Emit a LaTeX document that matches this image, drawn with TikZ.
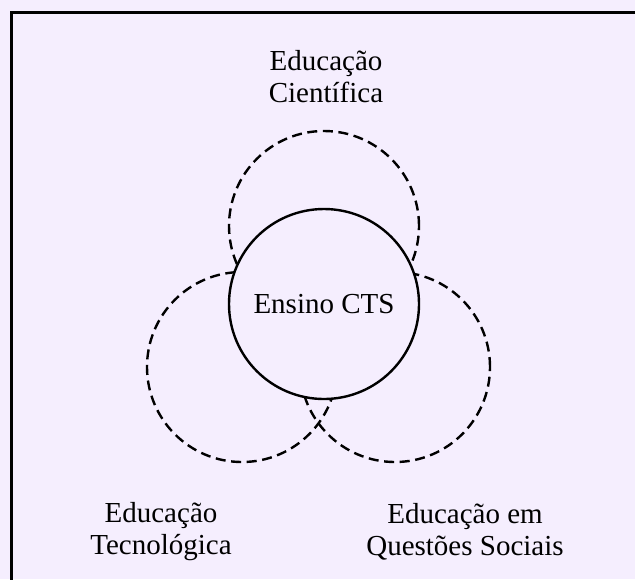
\documentclass[tikz,border=0pt]{standalone}
\usepackage{fontspec}
\setmainfont{Liberation Serif}
\definecolor{fundo}{RGB}{245,238,254}

\begin{document}
\begin{tikzpicture}[x=0.5pt,y=-0.5pt,
    area/.style={circle,draw,dashed,line width=1.2pt,dash pattern=on 5pt off 2.8pt,minimum size=95pt,inner sep=0pt},
    nucleo/.style={circle,draw,fill=fundo,line width=1.2pt,minimum size=95pt,inner sep=0pt,font=\fontsize{14.5}{16}\selectfont},
    rotulo/.style={align=center,inner sep=0pt,font=\fontsize{14.5}{16}\selectfont}]
    \useasboundingbox (0,0) rectangle (635,579);
    \clip (0,0) rectangle (635,579);
    \fill[fundo] (0,0) rectangle (635,579);
    \draw[line width=1.5pt] (11,12) rectangle (660,600);
    \node[area] (cien) at (324,226) {};
    \node[area] (tec)  at (242,367) {};
    \node[area] (soc)  at (395,367) {};
    \node[nucleo] (cts) at (324,304) {Ensino CTS};
    \node[rotulo] (lcien) at (326,77)  {Educação\\Científica};
    \node[rotulo] (ltec)  at (161,532) {Educação\\Tecnológica};
    \node[rotulo] (lsoc)  at (465,532) {Educação em\\Questões Sociais};
\end{tikzpicture}
\end{document}
